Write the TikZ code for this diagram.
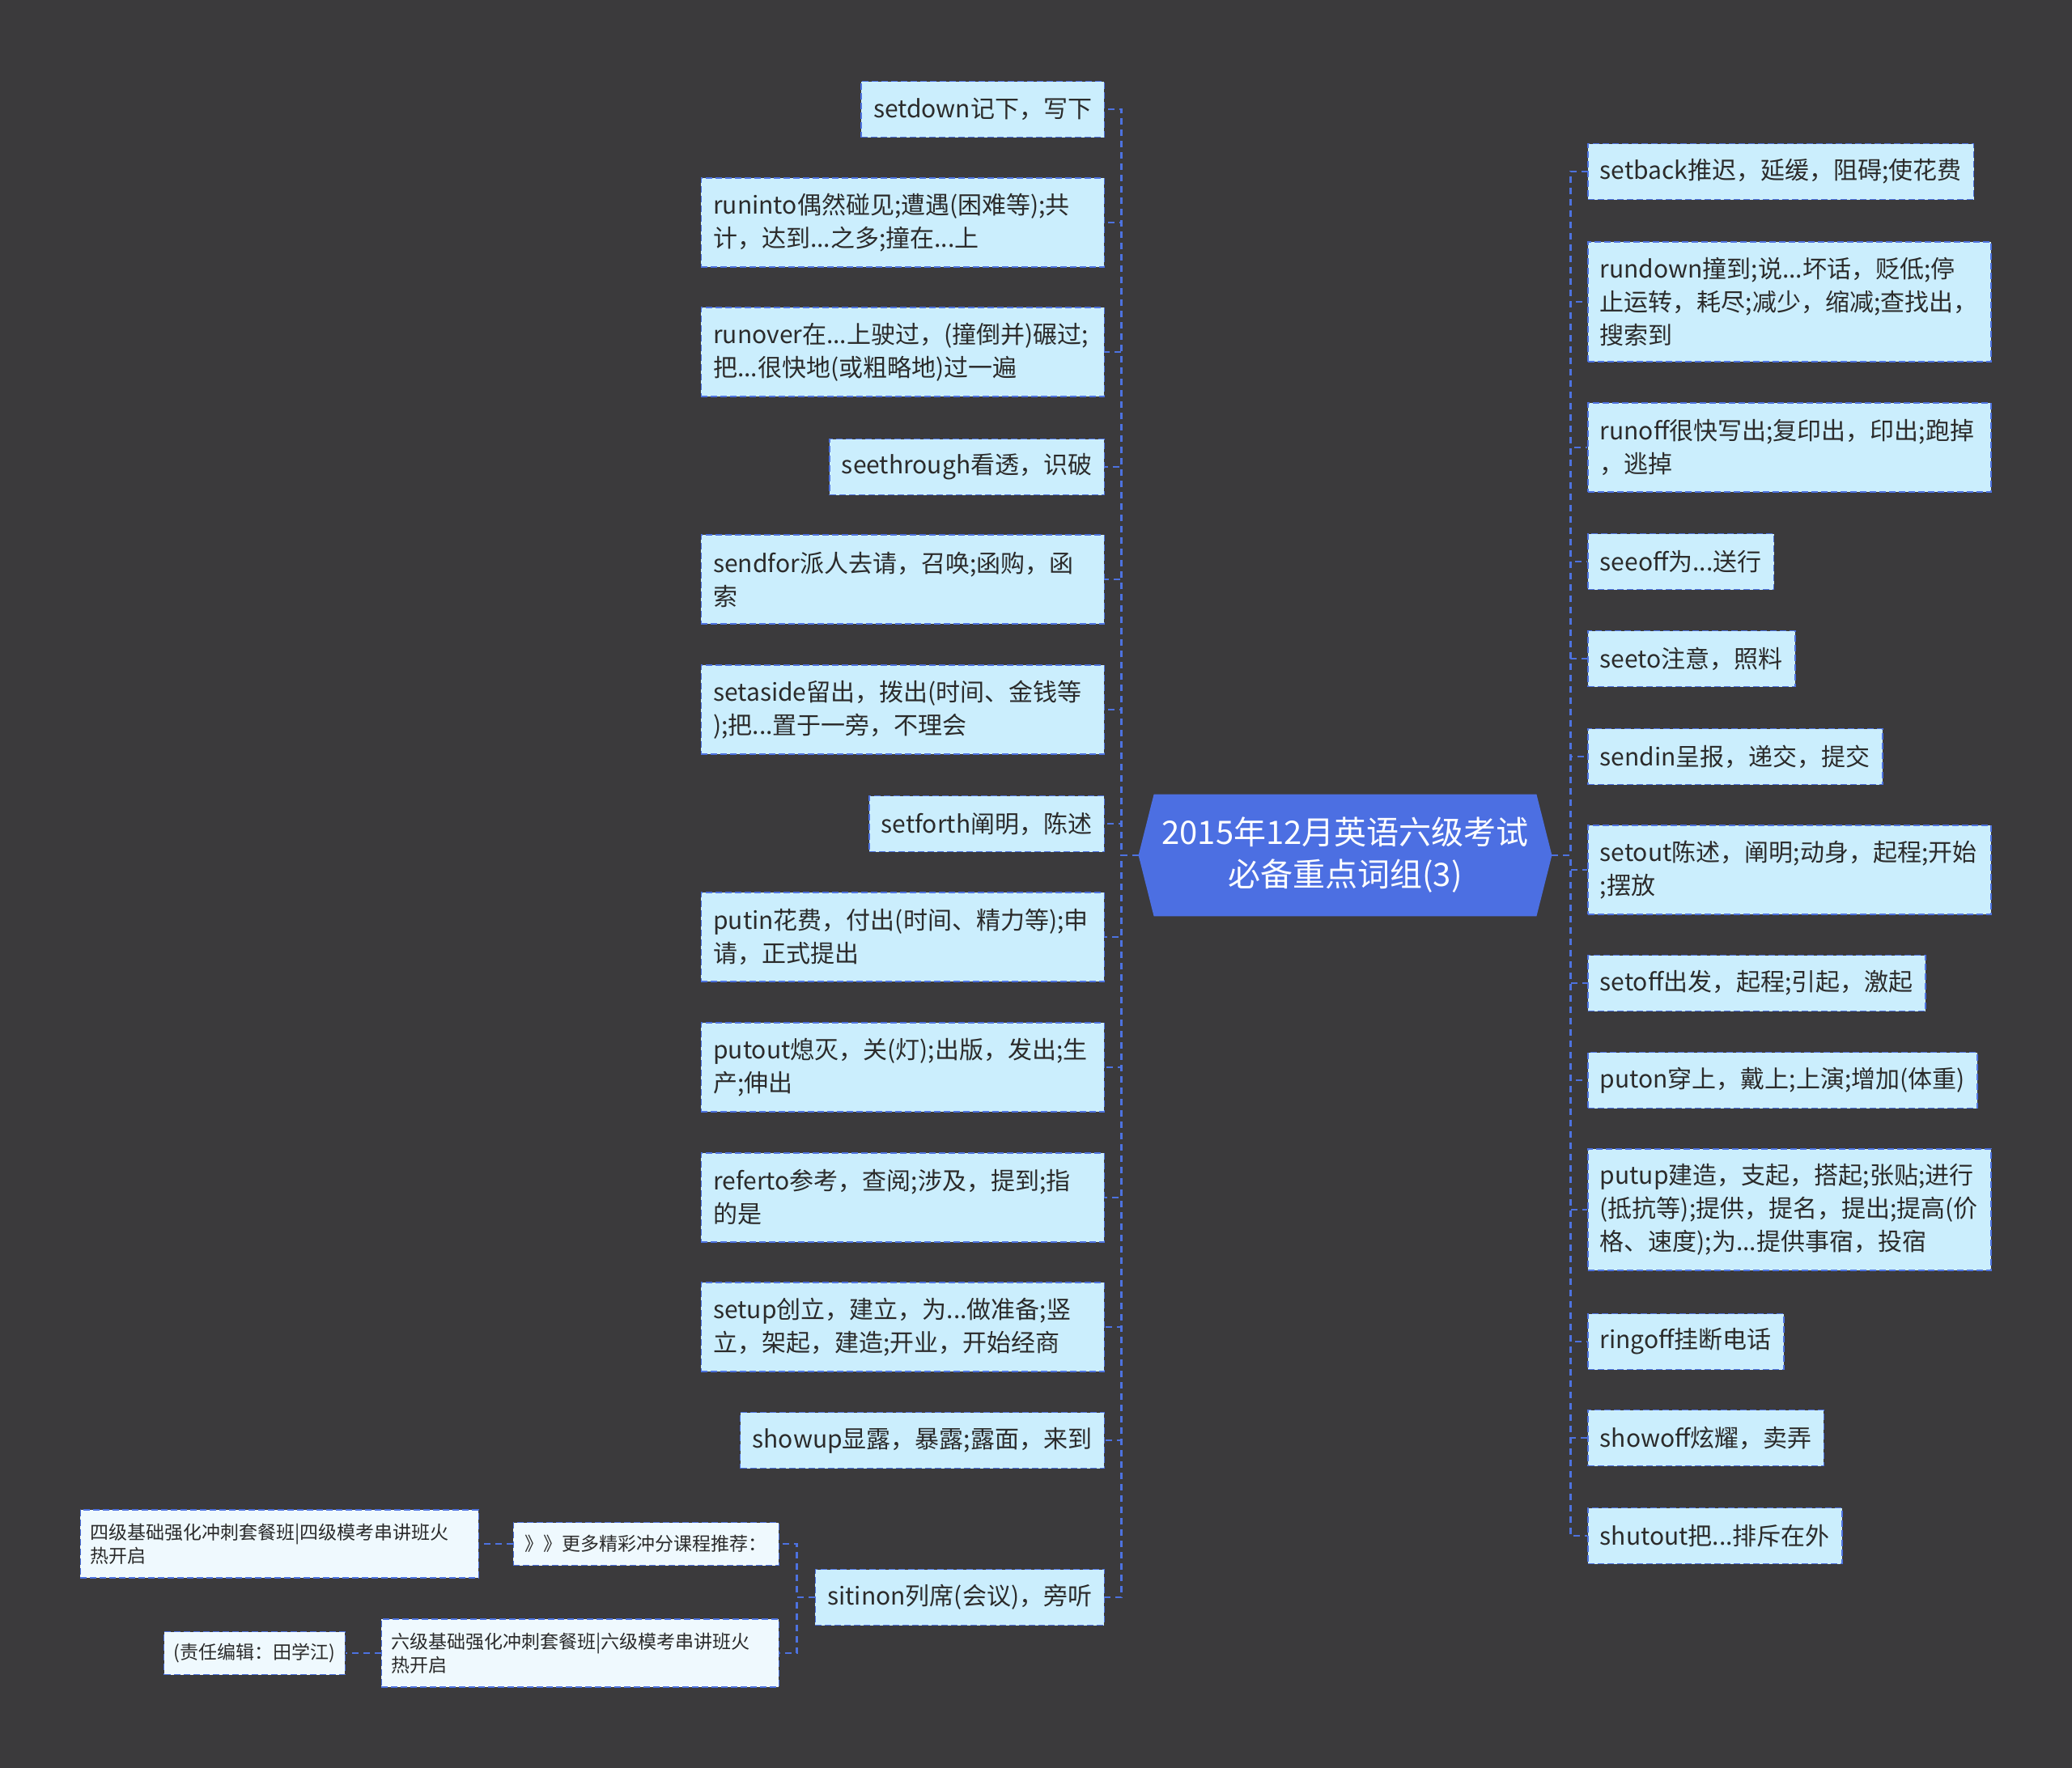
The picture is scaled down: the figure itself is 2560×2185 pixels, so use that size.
\documentclass[tikz,border=0pt]{standalone}
\usepackage{fontspec}
\newfontfamily\cjk{Noto Sans CJK SC}
\usetikzlibrary{backgrounds}
\definecolor{canvas}{HTML}{3B3A3C}
\definecolor{ink}{HTML}{2B2B2B}
\definecolor{leaf}{HTML}{CBEEFD}
\definecolor{pale}{HTML}{EFF9FE}
\definecolor{wire}{HTML}{4D72E0}
\definecolor{hubc}{HTML}{4C6FE2}
\tikzset{
  base/.style={rectangle, text=ink, draw=wire, line width=0.75pt, dash pattern=on 4pt off 2pt, align=left},
  leafbox/.style={base, fill=leaf, font=\cjk\fontsize{15}{20.5}\selectfont, inner xsep=7.5pt, minimum height=34.5pt},
  wideleaf/.style={leafbox, text width=234pt, minimum height=#1},
  tip/.style={base, fill=pale, font=\cjk\fontsize{11.5}{14.5}\selectfont, inner xsep=6pt, minimum height=26.5pt},
  link/.style={draw=wire, line width=1.4pt, dash pattern=on 4pt off 3pt},
}

\begin{document}
\begin{tikzpicture}[x=0.5pt, y=-0.5pt]
  \useasboundingbox (0,0) rectangle (2560,2185);
  % centre
  \node[font=\cjk\fontsize{20}{26}\selectfont, text=white, align=center, minimum width=255pt, minimum height=75pt, inner sep=0pt] (root) at (1662,1057) {2015年12月英语六级考试\\必备重点词组(3)};

  % left side
  \node[leafbox, anchor=east] (setdown) at (1365,135) {setdown记下，写下};
  \node[wideleaf=55pt, anchor=east] (runinto) at (1365,275) {runinto偶然碰见;遭遇(困难等);共\\计，达到...之多;撞在...上};
  \node[wideleaf=55pt, anchor=east] (runover) at (1365,435) {runover在...上驶过，(撞倒并)碾过;\\把...很快地(或粗略地)过一遍};
  \node[leafbox, anchor=east] (seethrough) at (1365,577) {seethrough看透，识破};
  \node[wideleaf=55pt, anchor=east] (sendfor) at (1365,716) {sendfor派人去请，召唤;函购，函\\索};
  \node[wideleaf=55pt, anchor=east] (setaside) at (1365,877) {setaside留出，拨出(时间、金钱等\\);把...置于一旁，不理会};
  \node[leafbox, anchor=east] (setforth) at (1365,1018) {setforth阐明，陈述};
  \node[wideleaf=55pt, anchor=east] (putin) at (1365,1158) {putin花费，付出(时间、精力等);申\\请，正式提出};
  \node[wideleaf=55pt, anchor=east] (putout) at (1365,1319) {putout熄灭，关(灯);出版，发出;生\\产;伸出};
  \node[wideleaf=55pt, anchor=east] (referto) at (1365,1480) {referto参考，查阅;涉及，提到;指\\的是};
  \node[wideleaf=55pt, anchor=east] (setup) at (1365,1640) {setup创立，建立，为...做准备;竖\\立，架起，建造;开业，开始经商};
  \node[leafbox, anchor=east] (showup) at (1365,1780) {showup显露，暴露;露面，来到};
  \node[leafbox, anchor=east] (sitinon) at (1365,1974) {sitinon列席(会议)，旁听};

  % right side
  \node[leafbox, anchor=west] (setback) at (1961,212) {setback推迟，延缓，阻碍;使花费};
  \node[wideleaf=74pt, anchor=west] (rundown) at (1961,373) {rundown撞到;说...坏话，贬低;停\\止运转，耗尽;减少，缩减;查找出，\\搜索到};
  \node[wideleaf=55pt, anchor=west] (runoff) at (1961,553) {runoff很快写出;复印出，印出;跑掉\\，逃掉};
  \node[leafbox, anchor=west] (seeoff) at (1961,694) {seeoff为...送行};
  \node[leafbox, anchor=west] (seeto) at (1961,814) {seeto注意，照料};
  \node[leafbox, anchor=west] (sendin) at (1961,935) {sendin呈报，递交，提交};
  \node[wideleaf=55pt, anchor=west] (setout) at (1961,1075) {setout陈述，阐明;动身，起程;开始\\;摆放};
  \node[leafbox, anchor=west] (setoff) at (1961,1215) {setoff出发，起程;引起，激起};
  \node[leafbox, anchor=west] (puton) at (1961,1335) {puton穿上，戴上;上演;增加(体重)};
  \node[wideleaf=75pt, anchor=west] (putup) at (1961,1495) {putup建造，支起，搭起;张贴;进行\\(抵抗等);提供，提名，提出;提高(价\\格、速度);为...提供事宿，投宿};
  \node[leafbox, anchor=west] (ringoff) at (1961,1658) {ringoff挂断电话};
  \node[leafbox, anchor=west] (showoff) at (1961,1777) {showoff炫耀，卖弄};
  \node[leafbox, anchor=west] (shutout) at (1961,1898) {shutout把...排斥在外};

  % extras under sitinon
  \node[tip, anchor=east, minimum width=164pt] (more) at (963,1908) {》》更多精彩冲分课程推荐：};
  \node[tip, anchor=east, text width=234pt, minimum height=42pt] (cet4) at (592,1908) {四级基础强化冲刺套餐班|四级模考串讲班火\\热开启};
  \node[tip, anchor=east, text width=233.5pt, minimum height=42pt] (cet6) at (963,2043) {六级基础强化冲刺套餐班|六级模考串讲班火\\热开启};
  \node[tip, anchor=east] (editor) at (427,2043) {(责任编辑：田学江)};

  \begin{scope}[on background layer]
    \fill[canvas] (0,0) rectangle (2560,2185);
    \fill[hubc] (root.west) -- ([xshift=9.5pt]root.north west) -- ([xshift=-9.5pt]root.north east)
      -- (root.east) -- ([xshift=-9.5pt]root.south east) -- ([xshift=9.5pt]root.south west) -- cycle;
  \end{scope}

  \foreach \n in {setdown,runinto,runover,seethrough,sendfor,setaside,setforth,putin,putout,referto,setup,showup,sitinon}
    \draw[link] (root.west) -- ++(-21,0) |- (\n.east);
  \foreach \n in {setback,rundown,runoff,seeoff,seeto,sendin,setout,setoff,puton,putup,ringoff,showoff,shutout}
    \draw[link] (root.east) -- ++(23,0) |- (\n.west);
  \foreach \n in {more,cet6}
    \draw[link] (sitinon.west) -- ++(-22,0) |- (\n.east);
  \draw[link] (more.west) -- (cet4.east);
  \draw[link] (cet6.west) -- (editor.east);
\end{tikzpicture}
\end{document}
